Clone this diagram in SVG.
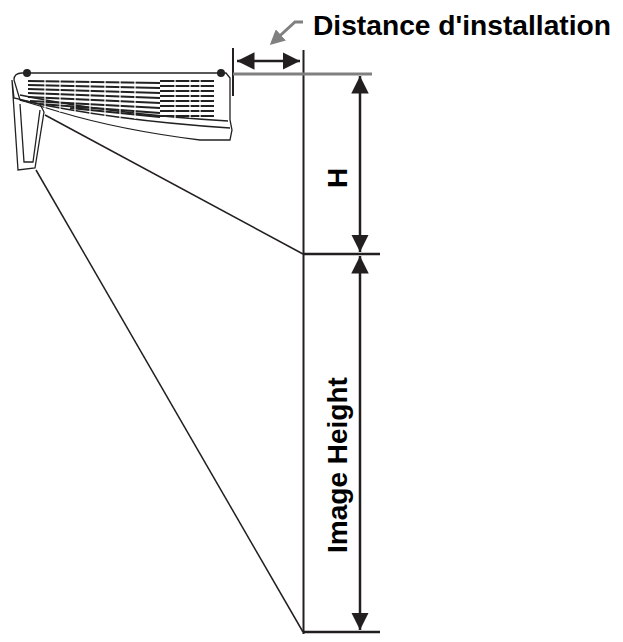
<svg xmlns="http://www.w3.org/2000/svg" width="623" height="642" viewBox="0 0 623 642">
<style>
.k{stroke:#231f20;fill:none}
.t{font-family:"Liberation Sans",Arial,sans-serif;font-weight:bold;font-size:28px;fill:#000}
.g{stroke:#222;stroke-width:1.3;fill:none}
</style>
<defs>
<marker id="a" viewBox="0 0 10 10" refX="10" refY="5" markerWidth="7" markerHeight="7" orient="auto-start-reverse"><path d="M0,0L10,5L0,10z" fill="#231f20"/></marker>
<marker id="b" viewBox="0 0 10 10" refX="8" refY="5" markerWidth="5" markerHeight="5" orient="auto"><path d="M0,0L10,5L0,10z" fill="#808080"/></marker>
</defs>
<rect width="623" height="642" fill="#fff"/>
<g id="projector">
<path class="g" fill="#fff" d="M14,80 Q14,73 22,73 L226,73 L230,78 L230,120 L232,130 L230,140 L200,140 Q120,130 60,112 L20,100 Z"/>
<path class="g" d="M20,100 Q110,120 230,128"/>
<path class="g" d="M20,95 Q110,114 228,121"/>
<g stroke="#222" stroke-width="2">
<path d="M28,81 L160,83 M28,85 L160,88 M28,89 L160,93 M28,93 L160,98 M28,97 L160,103 M30,101 L160,108 M40,104 L160,113 M70,108 L160,117"/>
<path d="M160,81 L214,81 M160,86 L214,86 M160,91 L214,91 M160,96 L214,96 M160,101 L214,101 M160,106 L214,106 M160,111 L214,111 M160,116 L214,116"/>
</g>
<g stroke="#fff" stroke-width="1.2">
<path d="M45,80V110 M60,80V112 M75,80V114 M90,80V116 M105,80V117 M120,80V118 M135,80V119 M175,80V118 M190,80V118 M200,80V118"/>
</g>
<circle cx="27" cy="73" r="4" fill="#222"/>
<circle cx="221" cy="73" r="4" fill="#222"/>
<path class="g" fill="#fff" d="M12,80 L18,170 L35,168 L44,112 L40,104 L14,98 Z"/>
<path class="g" d="M20,104 L24,162 L33,162 L40,110"/>
</g>
<g id="connectors" class="k">
<path d="M45,115 L303,254" stroke-width="1.5"/>
<path d="M36,170 L303,632" stroke-width="1.5"/>
<path d="M233,48V96" stroke-width="2"/>
<path d="M303.5,50V634" stroke-width="2"/>
<path d="M233,74H372" stroke="#808080" stroke-width="3"/>
<path d="M303,254H380" stroke-width="2.5"/>
<path d="M303,632H380" stroke-width="2.5"/>
<path d="M237,61H300" stroke-width="2.5" marker-start="url(#a)" marker-end="url(#a)"/>
<path d="M360,76V252" stroke-width="2.5" marker-start="url(#a)" marker-end="url(#a)"/>
<path d="M360,256V630" stroke-width="2.5" marker-start="url(#a)" marker-end="url(#a)"/>
<path d="M303,22H295L272,43" stroke="#808080" stroke-width="3" marker-end="url(#b)"/>
</g>
<g id="labels">
<text class="t" x="313" y="35" textLength="298" lengthAdjust="spacingAndGlyphs">Distance d'installation</text>
<text class="t" transform="translate(347,178) rotate(-90)" text-anchor="middle">H</text>
<text class="t" transform="translate(347,465) rotate(-90)" text-anchor="middle">Image Height</text>
</g>
</svg>
